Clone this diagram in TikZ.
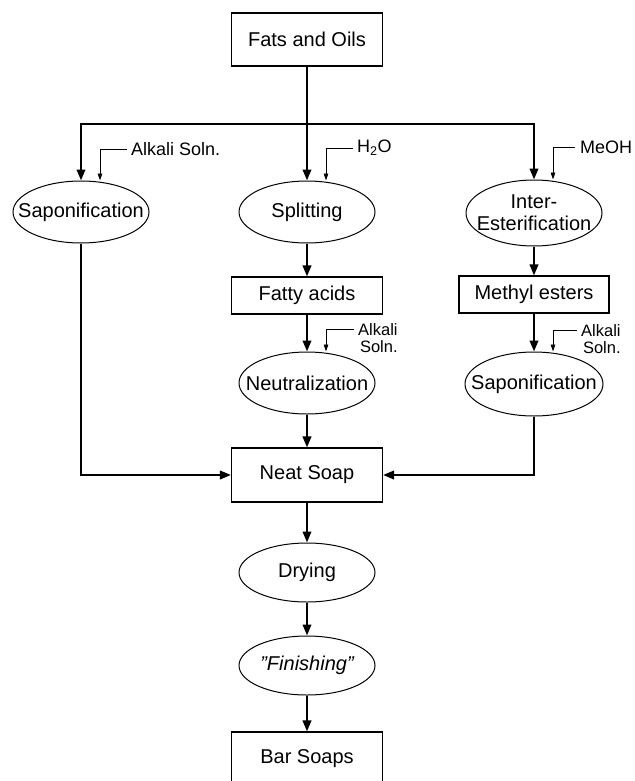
\documentclass[tikz,border=0pt]{standalone}
\usepackage{fontspec}
\setmainfont{Liberation Sans}
\usepackage{tikz}
\usetikzlibrary{shapes.geometric, arrows.meta}

\begin{document}
\begin{tikzpicture}[x=1pt, y=-1pt,
    every node/.style={font=\fontsize{20}{24}\selectfont},
    stage/.style={draw, line width=1.1pt, inner sep=0pt, minimum width=151pt, minimum height=53pt},
    process/.style={draw, ellipse, line width=1pt, inner xsep=-30pt, inner ysep=0pt, minimum width=136pt, minimum height=62pt},
    reagent/.style={anchor=west, inner sep=0pt, font=\fontsize{18}{21}\selectfont},
    reagents/.style={anchor=north west, inner sep=0pt, align=right, font=\fontsize{16.5}{17}\selectfont},
    flow/.style={line width=2.2pt, -{Triangle[length=11pt, width=8.5pt]}},
    feed/.style={line width=0.9pt, -{Triangle[length=7pt, width=4.5pt]}}]
   % page frame (always first!)
   \clip (0,0) rectangle (634,781);

    % Raw material and the three routes
    \node[stage] (fats) at (307,39.5) {Fats and Oils};
    \coordinate (bus) at (307,124);
    \node[process] (sapoA) at (81,212) {Saponification};
    \node[process] (split) at (307,212) {Splitting};
    \node[process, minimum height=66pt, align=center, font=\fontsize{20}{22}\selectfont] (ester) at (534,213) {Inter-\\Esterification};

    % Intermediates
    \node[stage, minimum height=37pt] (fatty) at (307,295.5) {Fatty acids};
    \node[stage, minimum height=37pt, minimum width=150pt] (methyl) at (534,294.5) {Methyl esters};
    \node[process] (neut) at (307,383) {Neutralization};
    \node[process, minimum width=138pt, minimum height=64pt] (sapoB) at (534,384) {Saponification};

    % Common finishing line
    \node[stage, minimum height=54pt] (neat) at (307,475) {Neat Soap};
    \node[process, minimum height=59pt] (dry) at (307,572.5) {Drying};
    \node[process, minimum height=59pt] (fin) at (307,665.5) {\itshape ''Finishing''};
    \node[stage, minimum height=54pt] (bar) at (307,759) {Bar Soaps};

    % Reagents
    \node[reagent] (alkA) at (131,149) {Alkali Soln.};
    \node[reagent] (water) at (357,148) {H\textsubscript{2}O};
    \node[reagent] (meoh) at (580,147) {MeOH};
    \node[reagents] (alkB) at (358,323) {Alkali\\Soln.};
    \node[reagents] (alkC) at (581,324) {Alkali\\Soln.};

    % Main flow
    \draw[flow] (fats) -- (split);
    \draw[flow] (bus) -| (sapoA);
    \draw[flow] (bus) -| (ester);
    \draw[flow] (split) -- (fatty);
    \draw[flow] (fatty) -- (neut);
    \draw[flow] (neut) -- (neat);
    \draw[flow] (ester) -- (methyl);
    \draw[flow] (methyl) -- (sapoB);
    \draw[flow] (sapoA) |- (neat);
    \draw[flow] (sapoB) |- (neat);
    \draw[flow] (neat) -- (dry);
    \draw[flow] (dry) -- (fin);
    \draw[flow] (fin) -- (bar);

    % Reagent feeds
    \draw[feed] ([xshift=-4pt]alkA.west) -| ([xshift=19pt]sapoA.north);
    \draw[feed] ([xshift=-4pt]water.west) -| ([xshift=19pt]split.north);
    \draw[feed] ([xshift=-5pt]meoh.west) -| ([xshift=19pt]ester.north);
    \draw[feed] ([xshift=-4pt, yshift=-6pt]alkB.north west) -| ([xshift=19pt]neut.north);
    \draw[feed] ([xshift=-4pt, yshift=-6pt]alkC.north west) -| ([xshift=19pt]sapoB.north);
\end{tikzpicture}
\end{document}
